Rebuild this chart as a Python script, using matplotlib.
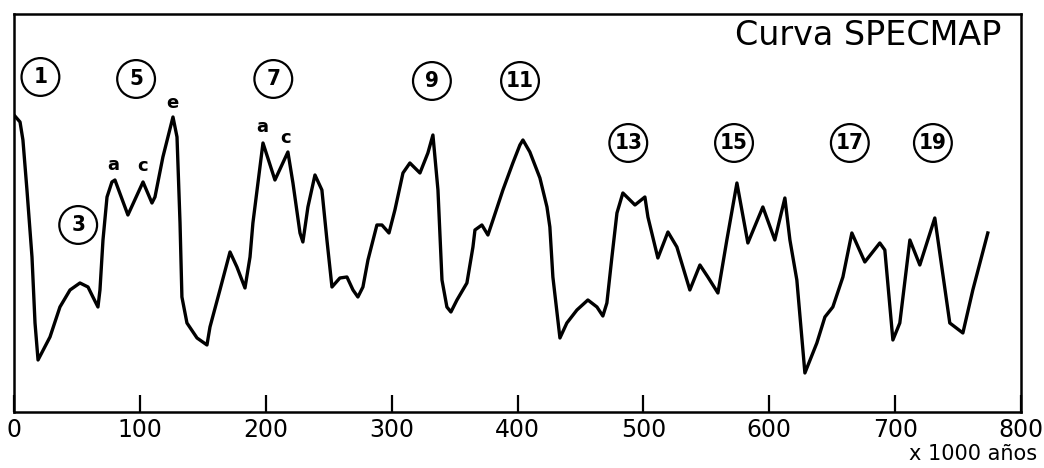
import matplotlib
matplotlib.use('Agg')
import matplotlib.pyplot as plt

# Curva SPECMAP (unidades relativas)
edad = [0, 4.8, 7.1, 10.3, 14.3, 16.7, 19.1, 28.6, 36.5, 44.5, 52.4, 58.8, 62.7, 66.7,
        68.3, 70.7, 73.9, 77.8, 80.2, 90.5, 102.5, 109.6, 112.0, 118.3, 126.3, 129.5,
        131.9, 133.4, 137.4, 145.4, 153.3, 155.7, 163.6, 171.6, 177.1, 183.5, 187.5,
        189.8, 191.4, 197.8, 207.3, 217.6, 221.6, 227.2, 229.5, 233.5, 239.1, 244.6,
        248.6, 252.6, 258.9, 264.5, 269.3, 273.2, 277.2, 281.2, 288.3, 292.3, 297.9,
        302.6, 309.0, 314.5, 322.5, 328.8, 332.8, 336.8, 340.0, 343.9, 347.1, 351.9,
        359.8, 364.6, 366.2, 371.7, 376.5, 380.5, 388.4, 396.3, 401.9, 404.3, 409.8,
        417.8, 423.4, 425.7, 428.1, 433.7, 439.2, 447.2, 455.9, 463.1, 467.8, 471.0,
        475.0, 479.0, 483.7, 493.3, 501.2, 503.6, 511.5, 519.5, 526.6, 536.9, 544.9,
        551.2, 559.2, 566.3, 574.3, 583.0, 594.9, 604.4, 612.4, 616.4, 621.9, 628.3,
        637.8, 644.2, 650.5, 658.5, 665.6, 675.9, 687.8, 691.8, 698.2, 703.7, 711.7,
        719.6, 731.5, 743.4, 753.8, 761.7, 773.6]
valor = [297, 290, 272, 222, 155, 89, 52, 75, 105, 122, 129, 125, 115, 105,
         122, 172, 215, 230, 232, 197, 230, 209, 215, 255, 295, 275,
         189, 115, 89, 74, 67, 85, 122, 160, 145, 124, 155,
         189, 205, 269, 232, 260, 229, 179, 170, 205, 237, 222,
         172, 125, 134, 135, 122, 115, 125, 152, 187, 187, 179,
         202, 239, 249, 239, 259, 277, 222, 132, 105, 100, 112,
         129, 165, 182, 187, 177, 192, 222, 249, 267, 272, 260,
         234, 205, 185, 135, 74, 89, 102, 112, 105, 96, 109,
         155, 199, 219, 207, 215, 195, 154, 180, 165, 122, 147,
         135, 119, 172, 229, 169, 205, 172, 214, 172, 132, 39,
         69, 95, 105, 135, 179, 150, 169, 162, 72, 89, 172,
         147, 194, 89, 79, 122, 179]

# estadios isotopicos y subestadios
estadios = ['1', '3', '5', '7', '9', '11', '13', '15', '17', '19']
estadios_x = [21, 51, 97, 206, 332, 402, 488, 572, 664, 730]
estadios_y = [335, 187, 333, 333, 331, 331, 269, 269, 269, 269]

subestadios = ['a', 'c', 'e', 'a', 'c']
subestadios_x = [78.6, 102.5, 125.5, 197, 216]
subestadios_y = [247, 246, 309, 285, 274]

ticks_x = [0, 100, 200, 300, 400, 500, 600, 700, 800]

plt.rcParams['font.family'] = ['DejaVu Sans']

fig = plt.figure(figsize=(10.44, 4.68), dpi=100)
ax = fig.add_axes([0.0134, 0.1197, 0.9646, 0.8504])

ax.plot(edad, valor, color='black', lw=2.4, solid_joinstyle='round')

# circulos
ax.scatter(estadios_x, estadios_y, s=740, facecolors='none', edgecolors='black',
           linewidths=1.6, zorder=3)
for t, x, y in zip(estadios, estadios_x, estadios_y):
    ax.text(x, y, t, ha='center', va='center', fontsize=16, fontweight='bold',
            fontstretch='condensed')

for t, x, y in zip(subestadios, subestadios_x, subestadios_y):
    ax.text(x, y, t, ha='center', va='center', fontsize=13, fontweight='bold')

ax.text(784, 376, 'Curva SPECMAP', ha='right', va='center', fontsize=24)

ax.set_xlim(0, 800)
ax.set_ylim(0, 398)
ax.set_xticks(ticks_x)
ax.set_xticklabels([str(t) for t in ticks_x], fontsize=17)
ax.set_yticks([])
ax.tick_params(axis='x', direction='in', length=12, width=1.6, pad=4)
for s in ax.spines.values():
    s.set_linewidth(1.8)

fig.text(0.993, 0.03, 'x 1000 años', ha='right', va='center', fontsize=15)

fig.savefig('out.png', dpi=100)
